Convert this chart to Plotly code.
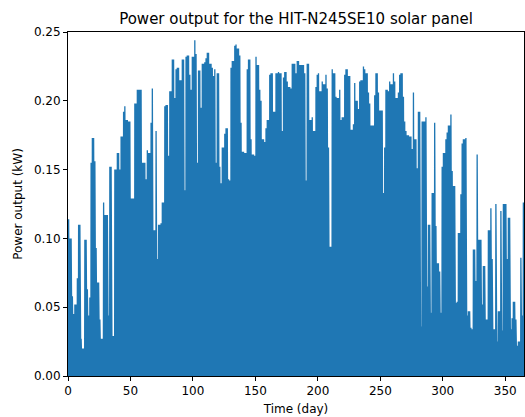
import plotly.graph_objects as go

# Daily peak power output (kW), days 0..364
peak_kw = [
    0.114, 0.100, 0.100, 0.058, 0.045, 0.052, 0.052, 0.071, 0.110, 0.110,
    0.027, 0.020, 0.020, 0.099, 0.099, 0.063, 0.044, 0.057, 0.155, 0.173,
    0.173, 0.156, 0.093, 0.068, 0.068, 0.041, 0.027, 0.027, 0.126, 0.117,
    0.117, 0.117, 0.044, 0.152, 0.152, 0.029, 0.029, 0.150, 0.150, 0.162,
    0.162, 0.150, 0.174, 0.174, 0.192, 0.196, 0.186, 0.186, 0.185, 0.185,
    0.129, 0.129, 0.129, 0.198, 0.198, 0.208, 0.208, 0.208, 0.208, 0.155,
    0.155, 0.155, 0.143, 0.164, 0.162, 0.162, 0.184, 0.209, 0.106, 0.106,
    0.178, 0.085, 0.110, 0.110, 0.111, 0.126, 0.126, 0.196, 0.197, 0.197,
    0.160, 0.207, 0.207, 0.230, 0.230, 0.202, 0.223, 0.224, 0.224, 0.215,
    0.215, 0.230, 0.230, 0.135, 0.232, 0.233, 0.233, 0.219, 0.208, 0.232,
    0.232, 0.244, 0.234, 0.155, 0.222, 0.222, 0.195, 0.227, 0.227, 0.228,
    0.231, 0.235, 0.235, 0.227, 0.227, 0.224, 0.218, 0.223, 0.155, 0.220,
    0.220, 0.152, 0.140, 0.166, 0.166, 0.176, 0.180, 0.180, 0.143, 0.142,
    0.224, 0.229, 0.229, 0.240, 0.241, 0.238, 0.238, 0.233, 0.184, 0.163,
    0.163, 0.162, 0.162, 0.223, 0.230, 0.230, 0.172, 0.161, 0.161, 0.160,
    0.232, 0.226, 0.226, 0.208, 0.200, 0.172, 0.172, 0.170, 0.180, 0.186,
    0.186, 0.219, 0.220, 0.220, 0.192, 0.192, 0.220, 0.220, 0.221, 0.220,
    0.220, 0.178, 0.217, 0.221, 0.221, 0.214, 0.210, 0.210, 0.209, 0.227,
    0.227, 0.227, 0.220, 0.229, 0.229, 0.226, 0.226, 0.226, 0.226, 0.220,
    0.142, 0.227, 0.227, 0.186, 0.186, 0.188, 0.178, 0.178, 0.210, 0.219,
    0.220, 0.207, 0.207, 0.214, 0.212, 0.212, 0.219, 0.209, 0.166, 0.094,
    0.094, 0.223, 0.220, 0.220, 0.203, 0.202, 0.202, 0.208, 0.186, 0.188,
    0.188, 0.219, 0.223, 0.223, 0.218, 0.218, 0.179, 0.179, 0.183, 0.213,
    0.200, 0.200, 0.194, 0.214, 0.215, 0.215, 0.225, 0.223, 0.220, 0.220,
    0.206, 0.198, 0.182, 0.182, 0.182, 0.204, 0.220, 0.220, 0.206, 0.193,
    0.193, 0.193, 0.133, 0.166, 0.208, 0.208, 0.207, 0.214, 0.212, 0.212,
    0.220, 0.214, 0.202, 0.202, 0.206, 0.219, 0.220, 0.220, 0.203, 0.185,
    0.178, 0.175, 0.175, 0.174, 0.174, 0.165, 0.206, 0.172, 0.172, 0.151,
    0.192, 0.192, 0.036, 0.185, 0.185, 0.185, 0.188, 0.065, 0.110, 0.110,
    0.046, 0.133, 0.133, 0.184, 0.109, 0.082, 0.082, 0.076, 0.046, 0.152,
    0.162, 0.162, 0.172, 0.177, 0.182, 0.182, 0.190, 0.149, 0.138, 0.138,
    0.053, 0.054, 0.104, 0.104, 0.132, 0.169, 0.172, 0.172, 0.173, 0.044,
    0.047, 0.047, 0.035, 0.034, 0.092, 0.092, 0.069, 0.161, 0.099, 0.099,
    0.099, 0.052, 0.080, 0.080, 0.041, 0.041, 0.106, 0.106, 0.122, 0.085,
    0.034, 0.034, 0.125, 0.025, 0.047, 0.047, 0.120, 0.033, 0.125, 0.125,
    0.125, 0.085, 0.115, 0.115, 0.034, 0.042, 0.054, 0.054, 0.041, 0.022,
    0.025, 0.025, 0.086, 0.044, 0.126,
]

x_ticks = [0, 50, 100, 150, 200, 250, 300, 350]
y_ticks = [0.00, 0.05, 0.10, 0.15, 0.20, 0.25]

# Build a daily profile: zero at night, peak at midday
xs, ys = [], []
for d, p in enumerate(peak_kw):
    xs += [d, d + 0.3, d + 0.5, d + 0.7]
    ys += [0.0, 0.0, p, 0.0]

fig = go.Figure()
fig.add_trace(go.Scatter(x=xs, y=ys, mode="lines",
                         line=dict(color="#1f77b4", width=1.3),
                         hoverinfo="skip", showlegend=False))

axis_common = dict(showline=True, mirror=True, linecolor="black", linewidth=1,
                   ticks="outside", ticklen=4, tickwidth=1, tickcolor="black",
                   showgrid=False, zeroline=False,
                   tickfont=dict(family="DejaVu Sans", size=12, color="black"))

fig.update_layout(
    width=525, height=417,
    margin=dict(l=68, r=1, t=32, b=41),
    paper_bgcolor="white", plot_bgcolor="white",
    title=dict(text="Power output for the HIT-N245SE10 solar panel",
               x=0.5, xref="paper", xanchor="center",
               y=1 - 19 / 417, yref="container", yanchor="middle",
               font=dict(family="DejaVu Sans", size=15, color="black")),
    xaxis=dict(range=[0, 365], tickvals=x_ticks,
               title=dict(text="Time (day)", standoff=7,
                          font=dict(family="DejaVu Sans", size=12, color="black")),
               **axis_common),
    yaxis=dict(range=[0, 0.25], tickvals=y_ticks, tickformat=".2f",
               title=dict(text="Power output (kW)", standoff=8,
                          font=dict(family="DejaVu Sans", size=12, color="black")),
               **axis_common),
)

fig.write_html("out.html")
